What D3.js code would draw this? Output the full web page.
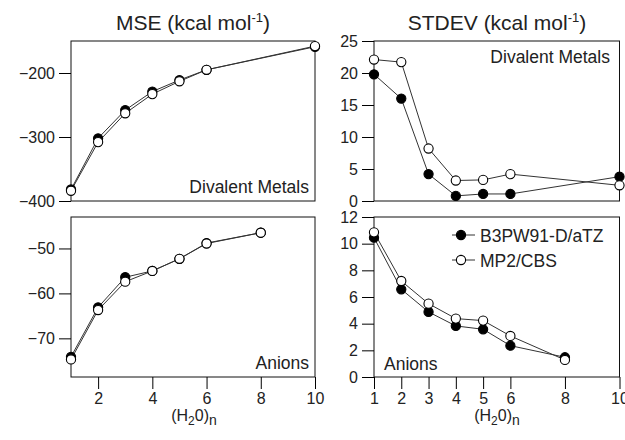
<!DOCTYPE html>
<html>
<head>
<meta charset="utf-8">
<script src="https://cdn.jsdelivr.net/npm/d3@7"></script>
<style>
    body { margin: 0; background: #fff; }
    svg { font-family: "Liberation Sans", Arial, sans-serif; fill: #222; }
    .frame { fill: none; stroke: #111; stroke-width: 1; }
    .series-line { fill: none; stroke: #333; stroke-width: 1; }
</style>
</head>
<body>
<svg id="chart" width="625" height="440"></svg>
<script>
// Water cluster size n
const MSE_METAL_N = [1, 2, 3, 4, 5, 6, 10];
const MSE_ANION_N = [1, 2, 3, 4, 5, 6, 8];
const STDEV_METAL_N = [1, 2, 3, 4, 5, 6, 10];
const STDEV_ANION_N = [1, 2, 3, 4, 5, 6, 8];

// MSE, divalent metals
const MSE_METAL_B3PW91 = [-382, -302, -258, -229, -211, -195, -159];
const MSE_METAL_MP2 = [-384, -308, -263, -233, -213, -195, -158];

// MSE, anions
const MSE_ANION_B3PW91 = [-74.1, -63.1, -56.4, -55.0, -52.3, -48.8, -46.5];
const MSE_ANION_MP2 = [-74.7, -63.7, -57.4, -55.0, -52.3, -48.9, -46.5];

// STDEV, divalent metals
const STDEV_METAL_B3PW91 = [19.8, 16.0, 4.2, 0.8, 1.1, 1.1, 3.8];
const STDEV_METAL_MP2 = [22.1, 21.7, 8.2, 3.2, 3.3, 4.2, 2.45];

// STDEV, anions
const STDEV_ANION_B3PW91 = [10.45, 6.58, 4.88, 3.83, 3.58, 2.35, 1.48];
const STDEV_ANION_MP2 = [10.85, 7.2, 5.5, 4.38, 4.23, 3.08, 1.28];

const SERIES_NAMES = ["B3PW91-D/aTZ", "MP2/CBS"];
const MSE_METAL_TICKS = [-200, -300, -400];
const MSE_ANION_TICKS = [-50, -60, -70];
const STDEV_METAL_TICKS = [0, 5, 10, 15, 20, 25];
const STDEV_ANION_TICKS = [0, 2, 4, 6, 8, 10, 12];
const X_TICKS_LEFT = [2, 4, 6, 8, 10];
const X_TICKS_RIGHT = [1, 2, 3, 4, 5, 6, 8, 10];

const svg = d3.select("#chart");

const LEFT_X = [71, 315];
const RIGHT_X = [374, 619.5];
const TOP_Y = [201, 41];
const BOTTOM_Y = [377, 217];

const minusFormat = (v) => String(v).replace("-", "\u2212");

const panels = [
    {
        xRange: LEFT_X, yRange: TOP_Y, yDomain: [-400, -150],
        n: MSE_METAL_N, series: [MSE_METAL_B3PW91, MSE_METAL_MP2],
        yTicks: MSE_METAL_TICKS, xTicks: null,
        label: "Divalent Metals", labelX: 309, labelY: 193, labelAnchor: "end"
    },
    {
        xRange: LEFT_X, yRange: BOTTOM_Y, yDomain: [-78.6, -43],
        n: MSE_ANION_N, series: [MSE_ANION_B3PW91, MSE_ANION_MP2],
        yTicks: MSE_ANION_TICKS, xTicks: X_TICKS_LEFT,
        label: "Anions", labelX: 309, labelY: 369, labelAnchor: "end"
    },
    {
        xRange: RIGHT_X, yRange: TOP_Y, yDomain: [0, 25],
        n: STDEV_METAL_N, series: [STDEV_METAL_B3PW91, STDEV_METAL_MP2],
        yTicks: STDEV_METAL_TICKS, xTicks: null,
        label: "Divalent Metals", labelX: 610, labelY: 63, labelAnchor: "end"
    },
    {
        xRange: RIGHT_X, yRange: BOTTOM_Y, yDomain: [0, 12],
        n: STDEV_ANION_N, series: [STDEV_ANION_B3PW91, STDEV_ANION_MP2],
        yTicks: STDEV_ANION_TICKS, xTicks: X_TICKS_RIGHT,
        label: "Anions", labelX: 384, labelY: 370, labelAnchor: "start",
        legend: true
    }
];

const drawPanel = (panel) => {
    const x = d3.scaleLinear().domain([1, 10]).range(panel.xRange);
    const y = d3.scaleLinear().domain(panel.yDomain).range(panel.yRange);
    const g = svg.append("g");

    // Frame
    g.append("rect")
        .classed("frame", true)
        .attr("x", panel.xRange[0])
        .attr("y", panel.yRange[1])
        .attr("width", panel.xRange[1] - panel.xRange[0])
        .attr("height", panel.yRange[0] - panel.yRange[1]);

    // Y axis
    const yAxis = g.append("g")
        .attr("transform", "translate(" + panel.xRange[0] + ",0)")
        .call(d3.axisLeft(y).tickValues(panel.yTicks).tickSize(12).tickPadding(4)
            .tickFormat(minusFormat));
    yAxis.select(".domain").remove();
    yAxis.selectAll("text")
        .style("font-family", "Liberation Sans, Arial, sans-serif")
        .style("font-size", "16px")
        .attr("fill", "#222");

    // X axis
    if (panel.xTicks) {
        const xAxis = g.append("g")
            .attr("transform", "translate(0," + panel.yRange[0] + ")")
            .call(d3.axisBottom(x).tickValues(panel.xTicks).tickSize(12).tickPadding(4));
        xAxis.select(".domain").remove();
        xAxis.selectAll("text")
            .style("font-family", "Liberation Sans, Arial, sans-serif")
            .style("font-size", "16px")
            .attr("fill", "#222");
    }

    // Lines, filled series first so open circles sit on top
    const line = d3.line()
        .x((d) => x(d[0]))
        .y((d) => y(d[1]));

    panel.series.forEach((values) => {
        const pts = panel.n.map((n, i) => [n, values[i]]);
        g.append("path")
            .classed("series-line", true)
            .attr("d", line(pts));
    });

    panel.series.forEach((values, s) => {
        const pts = panel.n.map((n, i) => [n, values[i]]);
        g.selectAll(".pt-" + s)
            .data(pts)
            .enter().append("circle")
            .attr("cx", (d) => x(d[0]))
            .attr("cy", (d) => y(d[1]))
            .attr("r", 4.6)
            .attr("fill", s == 0 ? "#000" : "#fff")
            .attr("stroke", "#000")
            .attr("stroke-width", 1.1);
    });

    g.append("text")
        .attr("x", panel.labelX)
        .attr("y", panel.labelY)
        .attr("text-anchor", panel.labelAnchor)
        .style("font-size", "17.5px")
        .text(panel.label);

    if (panel.legend) {
        SERIES_NAMES.forEach((name, s) => {
            const ly = 235 + s * 25;
            g.append("line")
                .attr("x1", 452).attr("x2", 475)
                .attr("y1", ly).attr("y2", ly)
                .attr("stroke", "#333").attr("stroke-width", 1);
            g.append("circle")
                .attr("cx", 461).attr("cy", ly).attr("r", 4.6)
                .attr("fill", s == 0 ? "#000" : "#fff")
                .attr("stroke", "#000").attr("stroke-width", 1.1);
            g.append("text")
                .attr("x", 480).attr("y", ly + 6.5)
                .style("font-size", "17.5px")
                .text(name);
        });
    }
};

panels.forEach(drawPanel);

// Titles
const addTitle = (cx, main) => {
    const t = svg.append("text")
        .attr("x", cx).attr("y", 30)
        .attr("text-anchor", "middle")
        .style("font-size", "21px");
    t.append("tspan").text(main + " (kcal mol");
    t.append("tspan").attr("dy", -8).style("font-size", "13px").text("-1");
    t.append("tspan").attr("dy", 8).text(")");
};
addTitle(193, "MSE");
addTitle(497, "STDEV");

// X labels
const addXLabel = (cx) => {
    const t = svg.append("text")
        .attr("x", cx).attr("y", 421)
        .attr("text-anchor", "middle")
        .style("font-size", "16px");
    t.append("tspan").text("(H");
    t.append("tspan").attr("dy", 4).style("font-size", "12px").text("2");
    t.append("tspan").attr("dy", -4).text("0)");
    t.append("tspan").attr("dy", 4).style("font-size", "14px").text("n");
};
addXLabel(194);
addXLabel(497);
</script>
</body>
</html>
